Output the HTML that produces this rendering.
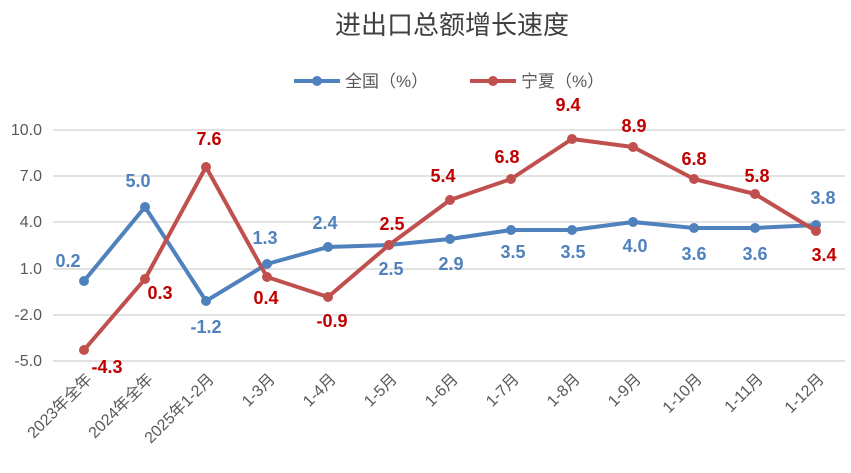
<!DOCTYPE html><html><head><meta charset="utf-8"><style>body{margin:0;background:#fff}svg{display:block}</style></head><body>
<svg width="851" height="473" xmlns="http://www.w3.org/2000/svg" font-family="Liberation Sans, Noto Sans CJK SC, sans-serif">
<rect width="851" height="473" fill="#fff"/>
<text x="452" y="34" font-size="26" text-anchor="middle" fill="#404040">进出口总额增长速度</text>
<g stroke="#4f81bd" stroke-width="4"><line x1="294" y1="81" x2="340" y2="81"/></g><circle cx="317" cy="81" r="5" fill="#4f81bd"/>
<text x="345" y="87" font-size="17" fill="#595959">全国（%）</text>
<g stroke="#c0504d" stroke-width="4"><line x1="470" y1="81" x2="516" y2="81"/></g><circle cx="493" cy="81" r="5" fill="#c0504d"/>
<text x="521" y="87" font-size="17" fill="#595959">宁夏（%）</text>
<g stroke="#d9d9d9" stroke-width="1.5">
<line x1="53" x2="845" y1="130" y2="130"/><line x1="53" x2="845" y1="176" y2="176"/><line x1="53" x2="845" y1="222" y2="222"/><line x1="53" x2="845" y1="269" y2="269"/><line x1="53" x2="845" y1="315" y2="315"/><line x1="53" x2="845" y1="361" y2="361"/></g>
<g font-size="16" fill="#595959" text-anchor="end">
<text x="42" y="135">10.0</text><text x="42" y="181">7.0</text><text x="42" y="227">4.0</text><text x="42" y="274">1.0</text><text x="42" y="320">-2.0</text><text x="42" y="366">-5.0</text></g>
<polyline fill="none" stroke="#4f81bd" stroke-width="4" stroke-linejoin="round" points="84,281 145,207 206,301 267,264 328,247 389,245 450,239 511,230 572,230 633,222 694,228 755,228 816,225"/>
<polyline fill="none" stroke="#c0504d" stroke-width="4" stroke-linejoin="round" points="84,350 145,279 206,167 267,277 328,297 389,245 450,200 511,179 572,139 633,147 694,179 755,194 816,231"/>
<g fill="#4f81bd"><circle cx="84" cy="281" r="5"/><circle cx="145" cy="207" r="5"/><circle cx="206" cy="301" r="5"/><circle cx="267" cy="264" r="5"/><circle cx="328" cy="247" r="5"/><circle cx="389" cy="245" r="5"/><circle cx="450" cy="239" r="5"/><circle cx="511" cy="230" r="5"/><circle cx="572" cy="230" r="5"/><circle cx="633" cy="222" r="5"/><circle cx="694" cy="228" r="5"/><circle cx="755" cy="228" r="5"/><circle cx="816" cy="225" r="5"/></g>
<g fill="#c0504d"><circle cx="84" cy="350" r="5"/><circle cx="145" cy="279" r="5"/><circle cx="206" cy="167" r="5"/><circle cx="267" cy="277" r="5"/><circle cx="328" cy="297" r="5"/><circle cx="389" cy="245" r="5"/><circle cx="450" cy="200" r="5"/><circle cx="511" cy="179" r="5"/><circle cx="572" cy="139" r="5"/><circle cx="633" cy="147" r="5"/><circle cx="694" cy="179" r="5"/><circle cx="755" cy="194" r="5"/><circle cx="816" cy="231" r="5"/></g>
<g font-size="18" font-weight="bold" fill="#4f81bd" text-anchor="middle">
<text x="68" y="267">0.2</text><text x="138" y="187">5.0</text><text x="206" y="333">-1.2</text><text x="265" y="244">1.3</text><text x="325" y="229">2.4</text><text x="391" y="275">2.5</text><text x="451" y="270">2.9</text><text x="513" y="258">3.5</text><text x="573" y="258">3.5</text><text x="635" y="252">4.0</text><text x="694" y="260">3.6</text><text x="755" y="260">3.6</text><text x="823" y="204">3.8</text></g>
<g font-size="18" font-weight="bold" fill="#c00000" text-anchor="middle">
<text x="107" y="373">-4.3</text><text x="160" y="299">0.3</text><text x="209" y="145">7.6</text><text x="266" y="304">0.4</text><text x="332" y="327">-0.9</text><text x="392" y="230">2.5</text><text x="443" y="182">5.4</text><text x="507" y="163">6.8</text><text x="568" y="111">9.4</text><text x="634" y="132">8.9</text><text x="694" y="165">6.8</text><text x="757" y="182">5.8</text><text x="824" y="261">3.4</text></g>
<g font-size="16" fill="#595959" text-anchor="end">
<text transform="translate(93,380) rotate(-45)">2023年全年</text>
<text transform="translate(154,380) rotate(-45)">2024年全年</text>
<text transform="translate(215,380) rotate(-45)">2025年1-2月</text>
<text transform="translate(276,380) rotate(-45)">1-3月</text>
<text transform="translate(337,380) rotate(-45)">1-4月</text>
<text transform="translate(398,380) rotate(-45)">1-5月</text>
<text transform="translate(459,380) rotate(-45)">1-6月</text>
<text transform="translate(520,380) rotate(-45)">1-7月</text>
<text transform="translate(581,380) rotate(-45)">1-8月</text>
<text transform="translate(642,380) rotate(-45)">1-9月</text>
<text transform="translate(703,380) rotate(-45)">1-10月</text>
<text transform="translate(764,380) rotate(-45)">1-11月</text>
<text transform="translate(825,380) rotate(-45)">1-12月</text>
</g>
</svg></body></html>
